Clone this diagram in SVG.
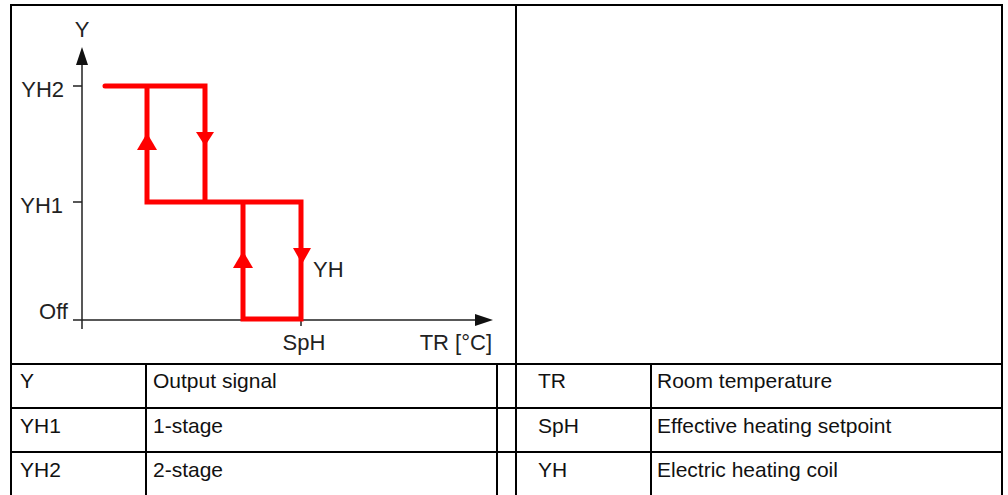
<svg xmlns="http://www.w3.org/2000/svg" width="1008" height="495" viewBox="0 0 1008 495">
<style>
.t{font-family:"Liberation Sans",Arial,sans-serif;font-size:21px;fill:#111}
.c{font-family:"Liberation Sans",Arial,sans-serif;font-size:22px;fill:#222}
.grid{stroke:#000;stroke-width:2;fill:none}
.ax{stroke:#222;stroke-width:1.5;fill:none}
.red{stroke:#ff0000;stroke-width:5;fill:none;stroke-linecap:round;stroke-linejoin:miter}
.rh{fill:#ff0000}
</style>
<rect width="1008" height="495" fill="#fff"/>
<g id="table">
<path class="grid" d="M11,497V5H1002V497M516,5V497M11,364H1002M11,408H1002M11,452H1002M146,364V497M497,364V497M651,364V497"/>
</g>
<g id="axes">
<path class="ax" d="M82,64V329M73,320H476M73,86H82M73,202H82M301,320V326"/>
<polygon points="82,47 76,65 88,65" fill="#111"/>
<polygon points="493,320 475,314 475,326" fill="#111"/>
<text class="c" x="82" y="37" text-anchor="middle">Y</text>
<text class="c" x="64" y="97" text-anchor="end">YH2</text>
<text class="c" x="63" y="213" text-anchor="end">YH1</text>
<text class="c" x="68" y="319" text-anchor="end">Off</text>
<text class="c" x="304" y="350" text-anchor="middle">SpH</text>
<text class="c" x="492" y="350" text-anchor="end">TR [°C]</text>
<text class="c" x="313" y="277">YH</text>
</g>
<g id="curve">
<path class="red" d="M105,86H205V202M147,86V202H301V319H243V202"/>
<polygon class="rh" points="147,133 137,150 157,150"/>
<polygon class="rh" points="205,146 196,132 214,132"/>
<polygon class="rh" points="243,251 233,268 253,268"/>
<polygon class="rh" points="302,264 293,248 311,248"/>
</g>
<g id="legend">
<text class="t" x="20" y="388">Y</text>
<text class="t" x="153" y="388">Output signal</text>
<text class="t" x="20" y="433">YH1</text>
<text class="t" x="153" y="433">1-stage</text>
<text class="t" x="20" y="477">YH2</text>
<text class="t" x="153" y="477">2-stage</text>
<text class="t" x="538" y="388">TR</text>
<text class="t" x="657" y="388">Room temperature</text>
<text class="t" x="538" y="433">SpH</text>
<text class="t" x="657" y="433">Effective heating setpoint</text>
<text class="t" x="538" y="477">YH</text>
<text class="t" x="657" y="477">Electric heating coil</text>
</g>
</svg>
